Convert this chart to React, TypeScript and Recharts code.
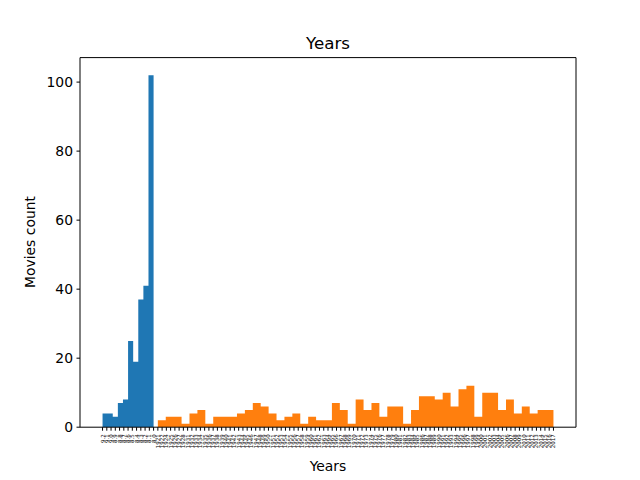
import { ComposedChart, Area, XAxis, YAxis, ReferenceLine } from 'recharts'

// rating categories (blue) and year categories (orange), in axis order
const ratingLabels = ['9.2', '9.1', '9.0', '8.9', '8.8', '8.7', '8.6', '8.5', '8.4', '8.3', '8.2', '8.1', '8.0']
const yearLabels = [
  '1921', '1922', '1924', '1925', '1926', '1927', '1928', '1931', '1932', '1933', '1934', '1935', '1936', '1937',
  '1938', '1939', '1940', '1941', '1942', '1943', '1944', '1945', '1946', '1947', '1948', '1949', '1950', '1951',
  '1952', '1953', '1954', '1955', '1956', '1957', '1958', '1959', '1960', '1961', '1962', '1963', '1964', '1965',
  '1966', '1967', '1968', '1969', '1970', '1971', '1972', '1973', '1974', '1975', '1976', '1977', '1978', '1979',
  '1980', '1981', '1982', '1983', '1984', '1985', '1986', '1987', '1988', '1989', '1990', '1991', '1992', '1993',
  '1994', '1995', '1996', '1997', '1998', '1999', '2000', '2001', '2002', '2003', '2004', '2005', '2006', '2007',
  '2008', '2009', '2010', '2011', '2012', '2013', '2014', '2015', '2016', '2017',
]

// histogram counts (10 bins over ratings, 50 bins over years)
const ratingCounts = [4, 4, 3, 7, 8, 25, 19, 37, 41, 102]
const yearCounts = [
  2, 3, 3, 1, 4, 5, 1, 3, 3, 3, 4, 5, 7, 6, 4, 2, 3, 4, 1, 3, 2, 2, 7, 5, 1,
  8, 5, 7, 3, 6, 6, 1, 5, 9, 9, 8, 10, 6, 11, 12, 3, 10, 10, 5, 8, 4, 6, 4, 5, 5,
]

const allLabels = [...ratingLabels, ...yearLabels]

// bin edges span the category indices, like plt.hist on categorical data
function histRows(counts: number[], start: number, end: number, key: string) {
  const w = (end - start) / counts.length
  const rows: Record<string, number>[] = counts.map((c, i) => ({ x: start + i * w, [key]: c }))
  rows.push({ x: end, [key]: counts[counts.length - 1] })
  return rows
}

const data = [
  ...histRows(ratingCounts, 0, ratingLabels.length - 1, 'ratings'),
  ...histRows(yearCounts, ratingLabels.length, allLabels.length - 1, 'years'),
]

const span = allLabels.length - 1
const xMin = -span * 0.05
const xMax = span * 1.05
const yMax = Math.max(...ratingCounts, ...yearCounts) * 1.05

const font = 'DejaVu Sans, sans-serif'

// eslint-disable-next-line @typescript-eslint/no-explicit-any
function XTick(props: any) {
  const { x, y, payload } = props
  return (
    <text
      x={x}
      y={y}
      transform={`rotate(-90, ${x}, ${y})`}
      textAnchor="end"
      dominantBaseline="central"
      fontSize={5.5}
      fontFamily={font}
      fill="#000"
    >
      {allLabels[payload.value]}
    </text>
  )
}

export default function App() {
  return (
    <div style={{ position: 'absolute', top: 0, left: 0, width: 640, height: 480, background: '#fff', fontFamily: font }}>
      <ComposedChart
        width={640}
        height={480}
        data={data}
        margin={{ top: 57.6, right: 64, bottom: 0, left: 20 }}
      >
        <XAxis
          type="number"
          dataKey="x"
          domain={[xMin, xMax]}
          ticks={allLabels.map((_, i) => i)}
          interval={0}
          tick={<XTick />}
          tickSize={3.5}
          tickMargin={3.5}
          height={52.8}
          stroke="#000"
          tickLine={{ stroke: '#000' }}
          allowDataOverflow
        />
        <YAxis
          type="number"
          domain={[0, yMax]}
          ticks={[0, 20, 40, 60, 80, 100]}
          width={60}
          tickSize={3.5}
          tickMargin={3.5}
          stroke="#000"
          tick={{ fill: '#000', fontSize: 13.9, fontFamily: font }}
          allowDataOverflow
        />
        <Area
          type="stepAfter"
          dataKey="ratings"
          fill="#1f77b4"
          fillOpacity={1}
          stroke="none"
          dot={false}
          activeDot={false}
          isAnimationActive={false}
        />
        <Area
          type="stepAfter"
          dataKey="years"
          fill="#ff7f0e"
          fillOpacity={1}
          stroke="none"
          dot={false}
          activeDot={false}
          isAnimationActive={false}
        />
        <ReferenceLine y={yMax} stroke="#000" />
        <ReferenceLine x={xMax} stroke="#000" />
      </ComposedChart>
      <div style={{ position: 'absolute', left: 80, width: 496, top: 33, lineHeight: '20px', fontSize: 16.7, textAlign: 'center' }}>
        Years
      </div>
      <div style={{ position: 'absolute', left: 80, width: 496, top: 458, lineHeight: '16px', fontSize: 13.9, textAlign: 'center' }}>
        Years
      </div>
      <div
        style={{
          position: 'absolute',
          left: -70,
          width: 200,
          top: 234,
          lineHeight: '16px',
          fontSize: 13.9,
          textAlign: 'center',
          transform: 'rotate(-90deg)',
        }}
      >
        Movies count
      </div>
    </div>
  )
}
